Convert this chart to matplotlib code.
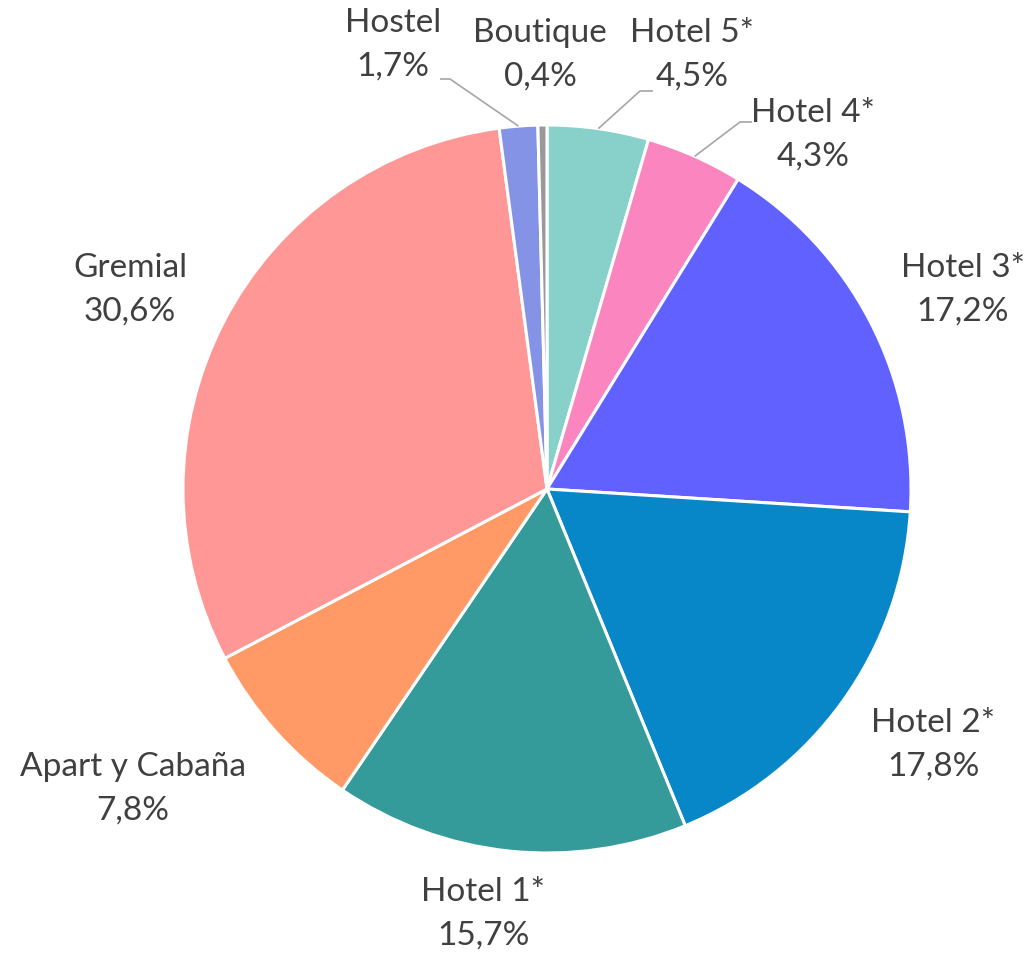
"""
Pie chart: distribution by accommodation category.
"""

import numpy as np
import matplotlib
matplotlib.use("Agg")
import matplotlib.pyplot as plt


# ── Data ──────────────────────────────────────────────────────────────────────
categories = ["Hotel 5*", "Hotel 4*", "Hotel 3*", "Hotel 2*", "Hotel 1*",
              "Apart y Cabaña", "Gremial", "Hostel", "Boutique"]
shares = [4.5, 4.3, 17.2, 17.8, 15.7, 7.8, 30.6, 1.7, 0.4]

colors = ["#88D1CB", "#FA85BF", "#6161FF", "#0787C7", "#359A9A",
          "#FF9A66", "#FF9797", "#8593E6", "#999999"]

# ── Layout (figure pixels) ────────────────────────────────────────────────────
W, H = 1030, 957
CX, CY, R = 547, 489, 364          # pie centre and radius in pixels

# label block centres, in pixels
label_px = {
    "Hotel 5*": (692, 55),
    "Hotel 4*": (813, 135),
    "Hotel 3*": (963, 290),
    "Hotel 2*": (933, 745),
    "Hotel 1*": (483, 914),
    "Apart y Cabaña": (133, 789),
    "Gremial": (130, 290),
    "Hostel": (393, 45),
    "Boutique": (540, 55),
}
# leader lines: elbow point and end point near the text, in pixels
leaders_px = {
    "Hostel": ((450, 79), (440, 79)),
    "Hotel 5*": ((640, 91), (653, 91)),
    "Hotel 4*": ((740, 122), (752, 122)),
}


def to_units(p):
    return ((p[0] - CX) / R, (CY - p[1]) / R)


fig = plt.figure(figsize=(W / 100, H / 100), dpi=100)
ax = fig.add_axes([0, 0, 1, 1])
ax.axis("off")

wedges, _ = ax.pie(
    shares,
    colors=colors,
    startangle=90,
    counterclock=False,
    radius=1.0,
    wedgeprops=dict(edgecolor="white", linewidth=2.2),
)
ax.set_aspect("auto")
ax.set_xlim(-CX / R, (W - CX) / R)
ax.set_ylim(-(H - CY) / R, CY / R)

for w, name, val in zip(wedges, categories, shares):
    x, y = to_units(label_px[name])
    txt = f"{name}\n{val:.1f}%".replace(".", ",")
    ax.text(x, y, txt, ha="center", va="center", fontsize=24,
            family="Lato", color="#404040", linespacing=1.55)

    if name in leaders_px:
        mid = np.deg2rad((w.theta1 + w.theta2) / 2)
        p0 = (np.cos(mid), np.sin(mid))
        p1 = to_units(leaders_px[name][0])
        p2 = to_units(leaders_px[name][1])
        ax.plot([p0[0], p1[0], p2[0]], [p0[1], p1[1], p2[1]],
                color="#A6A6A6", linewidth=1.2, solid_capstyle="butt")

fig.savefig("out.png", dpi=100)
